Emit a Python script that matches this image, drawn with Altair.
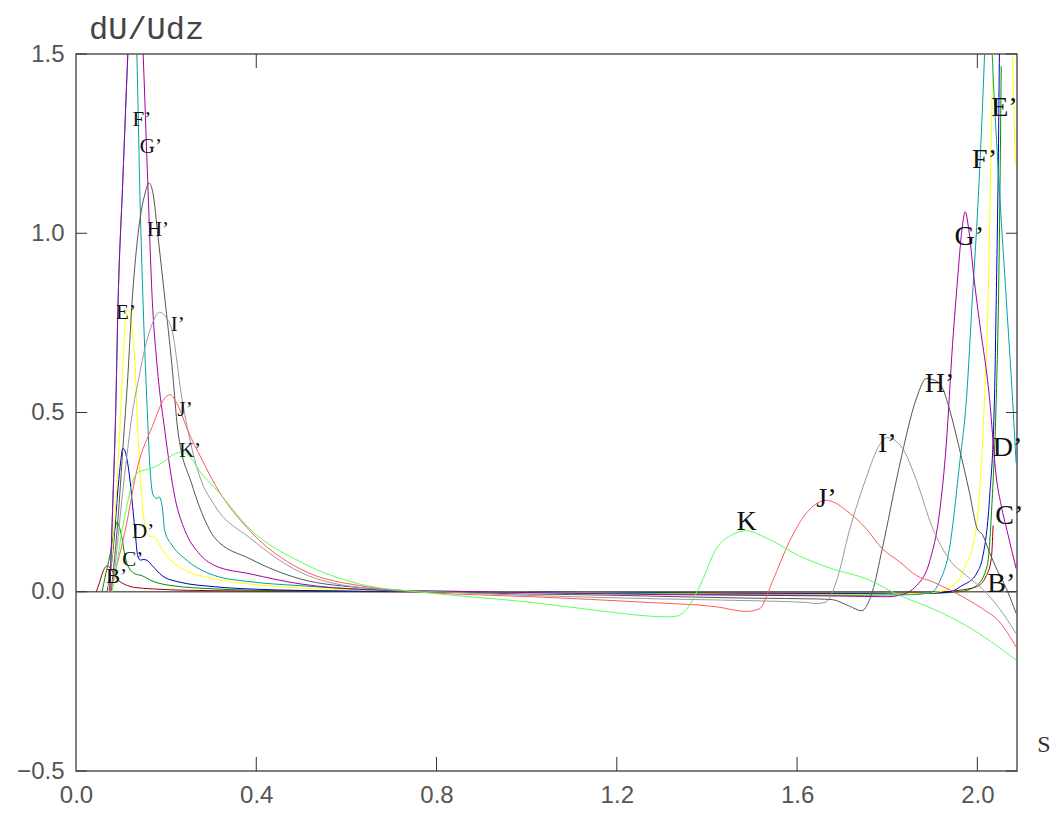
import altair as alt
import pandas as pd

# ---------------- data ----------------
B_s = [0.045, 0.052, 0.058, 0.063, 0.069, 0.075, 0.082, 0.091, 0.100, 0.109, 0.130, 0.169, 0.250, 0.400, 0.700, 1.000, 1.400, 1.800, 1.900, 1.960, 1.998, 2.020, 2.031, 2.035]
B_v = [0.0, 0.025, 0.05, 0.065, 0.072, 0.068, 0.055, 0.036, 0.026, 0.020, 0.012, 0.008, 0.004, 0.002, 0.0, -0.002, -0.003, -0.004, -0.002, 0.004, 0.014, 0.045, 0.092, 0.185]

C_s = [0.058, 0.066, 0.075, 0.082, 0.088, 0.091, 0.095, 0.102, 0.108, 0.115, 0.131, 0.146, 0.169, 0.213, 0.308, 0.450, 0.800, 1.200, 1.600, 1.900, 1.960, 1.998, 2.022, 2.033, 2.042, 2.047, 2.050, 2.053]
C_v = [0.0, 0.05, 0.10, 0.15, 0.185, 0.195, 0.185, 0.15, 0.105, 0.073, 0.05, 0.045, 0.03, 0.017, 0.008, 0.003, 0.0, -0.003, -0.005, -0.004, 0.0, 0.017, 0.073, 0.26, 0.54, 0.82, 1.10, 1.466]

D_s = [0.069, 0.078, 0.086, 0.092, 0.098, 0.104, 0.108, 0.113, 0.119, 0.124, 0.131, 0.137, 0.143, 0.149, 0.157, 0.169, 0.191, 0.226, 0.308, 0.400, 0.600, 0.900, 1.300, 1.700, 1.900, 1.940, 1.970, 1.982, 2.000, 2.011, 2.027, 2.038, 2.042, 2.047, 2.049, 2.052]
D_v = [0.0, 0.07, 0.17, 0.27, 0.35, 0.40, 0.395, 0.37, 0.32, 0.26, 0.17, 0.10, 0.088, 0.09, 0.088, 0.073, 0.045, 0.028, 0.014, 0.007, 0.002, 0.0, -0.004, -0.006, -0.004, 0.0, 0.02, 0.028, 0.055, 0.092, 0.26, 0.54, 0.82, 1.25, 1.5, 1.7]

E_s = [0.071, 0.080, 0.086, 0.093, 0.099, 0.104, 0.111, 0.115, 0.120, 0.124, 0.131, 0.137, 0.146, 0.153, 0.160, 0.164, 0.175, 0.186, 0.213, 0.242, 0.308, 0.424, 0.600, 0.900, 1.300, 1.700, 1.880, 1.916, 1.940, 1.960, 1.976, 1.989, 2.004, 2.016, 2.024, 2.030, 2.035, 2.050, 2.065, 2.078, 2.084]
E_v = [0.0, 0.10, 0.20, 0.35, 0.50, 0.63, 0.77, 0.785, 0.78, 0.74, 0.63, 0.45, 0.26, 0.185, 0.16, 0.155, 0.152, 0.13, 0.084, 0.06, 0.036, 0.017, 0.006, 0.0, -0.005, -0.008, -0.004, 0.0, 0.012, 0.036, 0.08, 0.12, 0.26, 0.54, 0.82, 1.2, 1.5, 1.85, 1.9, 1.5, 1.19]

F_s = [0.075, 0.082, 0.088, 0.093, 0.104, 0.115, 0.125, 0.135, 0.142, 0.149, 0.157, 0.164, 0.171, 0.180, 0.184, 0.191, 0.197, 0.213, 0.242, 0.308, 0.386, 0.497, 0.645, 0.900, 1.300, 1.700, 1.860, 1.900, 1.916, 1.938, 1.960, 1.976, 1.989, 2.000, 2.016, 2.024, 2.033, 2.050, 2.064, 2.078, 2.086]
F_v = [0.0, 0.26, 0.50, 0.79, 1.15, 1.5, 1.8, 1.5, 1.1, 0.80, 0.54, 0.35, 0.27, 0.26, 0.265, 0.24, 0.17, 0.13, 0.092, 0.045, 0.028, 0.017, 0.006, 0.0, -0.006, -0.01, -0.008, 0.0, 0.028, 0.12, 0.35, 0.54, 0.82, 1.05, 1.5, 1.8, 1.5, 1.1, 0.82, 0.54, 0.36]

G_s = [0.075, 0.082, 0.088, 0.093, 0.104, 0.115, 0.132, 0.149, 0.159, 0.169, 0.180, 0.197, 0.220, 0.242, 0.271, 0.308, 0.386, 0.497, 0.645, 0.900, 1.300, 1.700, 1.800, 1.827, 1.865, 1.894, 1.916, 1.931, 1.945, 1.956, 1.965, 1.973, 1.982, 1.993, 2.004, 2.027, 2.042, 2.053, 2.066, 2.086]
G_v = [0.0, 0.26, 0.50, 0.79, 1.15, 1.5, 1.95, 1.5, 1.15, 0.82, 0.63, 0.45, 0.26, 0.17, 0.11, 0.073, 0.05, 0.022, 0.006, 0.0, -0.008, -0.012, -0.014, -0.01, 0.017, 0.084, 0.22, 0.41, 0.69, 0.87, 1.0, 1.06, 1.0, 0.87, 0.76, 0.54, 0.32, 0.24, 0.17, 0.065]

H_s = [0.078, 0.093, 0.104, 0.115, 0.124, 0.137, 0.153, 0.162, 0.171, 0.182, 0.197, 0.213, 0.226, 0.257, 0.286, 0.308, 0.386, 0.497, 0.645, 0.800, 1.200, 1.500, 1.643, 1.678, 1.716, 1.743, 1.767, 1.789, 1.827, 1.865, 1.887, 1.905, 1.922, 1.938, 1.960, 1.982, 2.000, 2.011, 2.027, 2.044, 2.064, 2.086]
H_v = [0.0, 0.2, 0.4, 0.6, 0.8, 0.99, 1.11, 1.14, 1.11, 0.99, 0.82, 0.63, 0.45, 0.30, 0.20, 0.15, 0.092, 0.036, 0.01, 0.0, -0.01, -0.018, -0.02, -0.022, -0.04, -0.053, 0.0, 0.12, 0.35, 0.54, 0.595, 0.59, 0.57, 0.51, 0.40, 0.28, 0.175, 0.16, 0.11, 0.06, 0.01, -0.06]

I_s = [0.080, 0.091, 0.102, 0.113, 0.124, 0.140, 0.153, 0.170, 0.186, 0.200, 0.213, 0.235, 0.257, 0.275, 0.308, 0.386, 0.497, 0.645, 0.800, 1.000, 1.300, 1.500, 1.621, 1.643, 1.665, 1.687, 1.716, 1.754, 1.783, 1.800, 1.834, 1.865, 1.900, 1.938, 1.976, 2.011, 2.049, 2.086]
I_v = [0.0, 0.12, 0.26, 0.38, 0.49, 0.60, 0.68, 0.75, 0.78, 0.765, 0.73, 0.54, 0.40, 0.32, 0.24, 0.15, 0.055, 0.01, 0.0, -0.01, -0.02, -0.025, -0.03, -0.033, -0.028, 0.028, 0.17, 0.32, 0.41, 0.43, 0.40, 0.31, 0.18, 0.09, 0.045, 0.008, -0.047, -0.117]

J_s = [0.075, 0.092, 0.109, 0.137, 0.169, 0.197, 0.208, 0.226, 0.248, 0.279, 0.308, 0.386, 0.497, 0.645, 0.756, 1.013, 1.273, 1.421, 1.488, 1.517, 1.545, 1.583, 1.621, 1.665, 1.716, 1.754, 1.789, 1.827, 1.865, 1.900, 1.976, 2.011, 2.049, 2.086]
J_v = [0.0, 0.08, 0.17, 0.35, 0.46, 0.54, 0.55, 0.52, 0.45, 0.37, 0.30, 0.17, 0.064, 0.014, 0.0, -0.014, -0.03, -0.042, -0.055, -0.047, 0.028, 0.14, 0.22, 0.255, 0.22, 0.175, 0.12, 0.084, 0.045, 0.028, -0.02, -0.047, -0.084, -0.154]

K_s = [0.080, 0.091, 0.102, 0.113, 0.124, 0.135, 0.153, 0.169, 0.191, 0.220, 0.235, 0.257, 0.275, 0.308, 0.386, 0.497, 0.645, 0.756, 1.013, 1.162, 1.273, 1.310, 1.333, 1.360, 1.384, 1.421, 1.457, 1.488, 1.532, 1.605, 1.678, 1.754, 1.827, 1.900, 1.976, 2.086]
K_v = [0.0, 0.08, 0.17, 0.24, 0.30, 0.33, 0.34, 0.345, 0.36, 0.385, 0.39, 0.37, 0.335, 0.29, 0.175, 0.084, 0.017, 0.0, -0.03, -0.053, -0.068, -0.07, -0.068, -0.04, 0.015, 0.12, 0.16, 0.17, 0.15, 0.10, 0.064, 0.036, -0.01, -0.047, -0.095, -0.19]

curve_names = ["B", "C", "D", "E", "F", "G", "H", "I", "J", "K"]
curve_colors = ["#a00000", "#009000", "#0000c8", "#ffff00", "#00a0a0",
                "#a000a0", "#555555", "#9a9a9a", "#ff5a5a", "#5aff5a"]

left_labels = ["F’", "G’", "H’", "E’", "I’", "J’", "K’", "D’", "C’", "B’"]
left_s = [0.146, 0.166, 0.182, 0.111, 0.226, 0.242, 0.253, 0.149, 0.126, 0.090]
left_v = [1.316, 1.24, 1.01, 0.777, 0.743, 0.506, 0.394, 0.168, 0.088, 0.042]

right_labels = ["H’", "I’", "J’", "K", "G’", "F’", "E’", "D’", "C’", "B’"]
right_s = [1.916, 1.800, 1.665, 1.488, 1.982, 2.016, 2.060, 2.067, 2.071, 2.053]
right_v = [0.58, 0.413, 0.26, 0.195, 0.99, 1.204, 1.35, 0.40, 0.21, 0.022]

x_ticks = [0.0, 0.4, 0.8, 1.2, 1.6, 2.0]
x_ticks_bottom = [0.4, 0.8, 1.2, 1.6, 2.0]
x_ticks_top = [0.4, 2.0]
y_ticks = [-0.5, 0.0, 0.5, 1.0, 1.5]
y_ticks_right = [-0.5, 0.0, 0.5, 1.0, 1.5]

# ---------------- build tables ----------------
series = {"B": (B_s, B_v), "C": (C_s, C_v), "D": (D_s, D_v), "E": (E_s, E_v),
          "F": (F_s, F_v), "G": (G_s, G_v), "H": (H_s, H_v), "I": (I_s, I_v),
          "J": (J_s, J_v), "K": (K_s, K_v)}
rows = []
for name in curve_names:
    s_list, v_list = series[name]
    for i, (s, v) in enumerate(zip(s_list, v_list)):
        rows.append({"curve": name, "s": s, "v": v, "i": i})
df = pd.DataFrame(rows)

W, H = 941, 717
xs = alt.Scale(domain=[0.0, 2.088], nice=False, zero=False)
ys = alt.Scale(domain=[-0.5, 1.5], nice=False, zero=False)

ax_x = alt.Axis(values=x_ticks, format=".1f", ticks=False, domain=False, grid=False,
                title=None, labelFont="Liberation Sans", labelFontSize=24,
                labelColor="#555555", labelPadding=12, labelFlush=False)
ax_y = alt.Axis(values=y_ticks, format=".1f", ticks=False, domain=False, grid=False,
                title=None, labelFont="Liberation Sans", labelFontSize=24,
                labelColor="#555555", labelPadding=12)

def X(field):
    return alt.X(field, type="quantitative", scale=xs, axis=ax_x)

def Y(field):
    return alt.Y(field, type="quantitative", scale=ys, axis=ax_y)

lines = alt.Chart(df).mark_line(strokeWidth=1, clip=True, interpolate="monotone").encode(
    x=X("s"), y=Y("v"),
    color=alt.Color("curve:N", scale=alt.Scale(domain=curve_names, range=curve_colors), legend=None),
    order=alt.Order("i:Q"),
)

zero = alt.Chart(pd.DataFrame({"v": [0.0]})).mark_rule(color="#666666", strokeWidth=1.3).encode(y=Y("v"))

tb = alt.Chart(pd.DataFrame({"t": x_ticks_bottom})).mark_rule(color="#333333", strokeWidth=1).encode(
    x=X("t"), y=alt.value(H), y2=alt.value(H - 14))
tt = alt.Chart(pd.DataFrame({"t": x_ticks_top})).mark_rule(color="#333333", strokeWidth=1).encode(
    x=X("t"), y=alt.value(0), y2=alt.value(14))
tl = alt.Chart(pd.DataFrame({"t": y_ticks})).mark_rule(color="#333333", strokeWidth=1).encode(
    y=Y("t"), x=alt.value(0), x2=alt.value(11))
tr = alt.Chart(pd.DataFrame({"t": y_ticks_right})).mark_rule(color="#333333", strokeWidth=1).encode(
    y=Y("t"), x=alt.value(W), x2=alt.value(W - 11))

lab_l = alt.Chart(pd.DataFrame({"lab": left_labels, "s": left_s, "v": left_v})).mark_text(
    font="Liberation Serif", fontSize=21, color="#111111", align="center", baseline="middle").encode(
    x=X("s"), y=Y("v"), text="lab:N")
lab_r = alt.Chart(pd.DataFrame({"lab": right_labels, "s": right_s, "v": right_v})).mark_text(
    font="Liberation Serif", fontSize=28, color="#111111", align="center", baseline="middle").encode(
    x=X("s"), y=Y("v"), text="lab:N")

ytitle = alt.Chart(pd.DataFrame({"t": ["dU/Udz"]})).mark_text(
    font="Liberation Mono", fontSize=32, color="#444444", align="left", baseline="alphabetic").encode(
    x=alt.value(13), y=alt.value(-15), text="t:N")
xtitle = alt.Chart(pd.DataFrame({"t": ["S"]})).mark_text(
    font="Liberation Serif", fontSize=24, color="#333333", align="center", baseline="middle").encode(
    x=alt.value(968), y=alt.value(691), text="t:N")

chart = alt.layer(zero, lines, tb, tt, tl, tr, lab_l, lab_r, ytitle, xtitle).properties(
    width=W, height=H,
    autosize=alt.AutoSizeParams(type="none"),
    padding={"left": 68, "top": 46, "right": 34, "bottom": 41},
    background="white",
).configure_view(stroke="#555555", strokeWidth=1.5)

chart.save("out.html", embed_options={"renderer": "svg", "actions": False})
